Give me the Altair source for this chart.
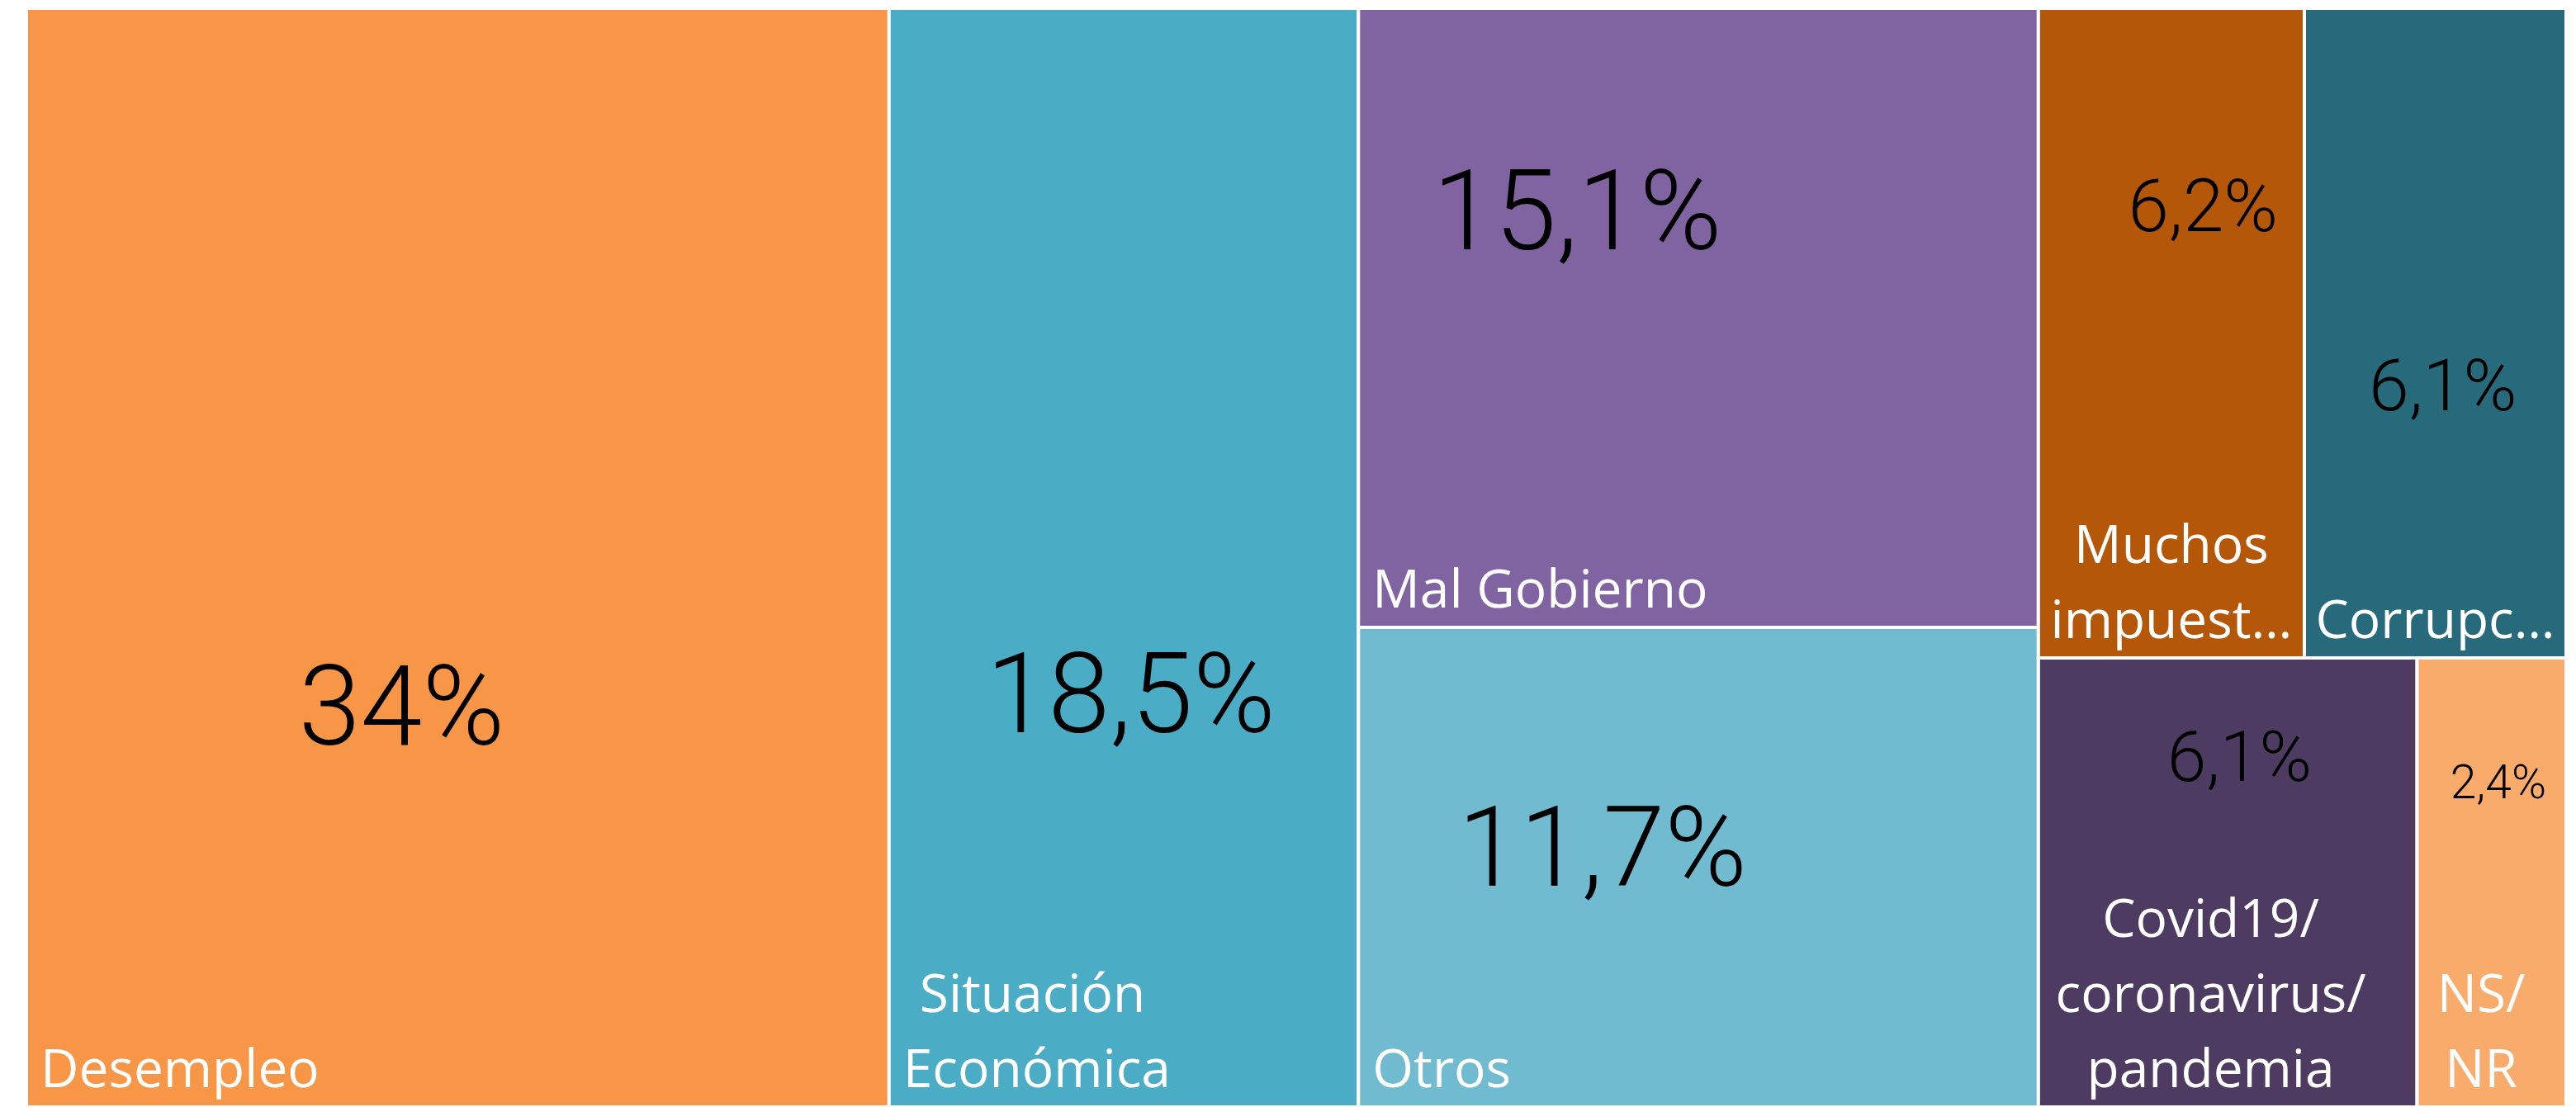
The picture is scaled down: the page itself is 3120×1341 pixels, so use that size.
import altair as alt
import pandas as pd

# ---------------- data ----------------
categories = ["Desempleo", "Situación Económica", "Mal Gobierno", "Otros",
              "Muchos impuestos", "Corrupción", "Covid19/coronavirus/pandemia", "NS/NR"]
values = [34.0, 18.5, 15.1, 11.7, 6.2, 6.1, 6.1, 2.4]
# treemap hierarchy: column -> row within column -> items left to right
column_of = [0, 1, 2, 2, 3, 3, 3, 3]
row_of = [0, 0, 0, 1, 0, 0, 1, 1]
# category names as printed (with the truncation shown in the chart)
name_lines = [["Desempleo"], ["Situación", "Económica"], ["Mal Gobierno"], ["Otros"],
              ["Muchos", "impuest…"], ["Corrupc…"], ["Covid19/", "coronavirus/", "pandemia"],
              ["NS/", "NR"]]

# ---------------- style ----------------
colors = ["#F79646", "#4BACC6", "#8064A2", "#70BBD0",
          "#B55709", "#276A7B", "#4D3B62", "#F9AB6B"]
# percentage label: anchor as fraction of its rectangle, font size
pct_fx = [0.435, 0.515, 0.322, 0.359, 0.619, 0.529, 0.531, 0.545]
pct_fy = [0.670, 0.659, 0.389, 0.539, 0.343, 0.619, 0.274, 0.312]
pct_fs = [135, 135, 135, 135, 89, 88, 86, 57]
# category name alignment
name_align = ["left", "left", "left", "left", "center", "center", "center", "center"]
name_fx = [0, 0, 0, 0, 0.5, 0.5, 0.455, 0.43]
# extra indentation (px) of individual name lines
name_indent = [[0], [20, 0], [0], [0], [0, 0], [0], [0, 0, 0], [0, 0]]

W_PX, H_PX = 3076, 1331
NAME_BOTTOM_PX = 24
NAME_LINE_PX = 91

# ---------------- treemap layout from values ----------------
total = sum(values)
rects = {}
x_cursor = 0.0
for c in sorted(set(column_of)):
    idx_c = [i for i in range(len(values)) if column_of[i] == c]
    col_total = sum(values[i] for i in idx_c)
    col_w = col_total / total
    y_cursor = 0.0
    for r in sorted(set(row_of[i] for i in idx_c)):
        idx_r = [i for i in idx_c if row_of[i] == r]
        row_total = sum(values[i] for i in idx_r)
        row_h = row_total / col_total
        xc = x_cursor
        for i in idx_r:
            w = col_w * values[i] / row_total
            rects[i] = (xc, xc + w, y_cursor, y_cursor + row_h)
            xc += w
        y_cursor += row_h
    x_cursor += col_w

rect_rows, pct_rows, name_rows = [], [], []
for i, cat in enumerate(categories):
    x0, x1, y0, y1 = rects[i]
    rect_rows.append({"category": cat, "x0": x0, "x1": x1, "y0": y0, "y1": y1})
    lab = ("%g" % values[i]).replace(".", ",") + "%"
    pct_rows.append({"category": cat, "label": lab,
                     "tx": x0 + pct_fx[i] * (x1 - x0),
                     "ty": y0 + pct_fy[i] * (y1 - y0),
                     "fs": pct_fs[i]})
    n = len(name_lines[i])
    for k, line in enumerate(name_lines[i]):
        from_bottom = n - 1 - k
        name_rows.append({"category": cat, "line": line, "align": name_align[i],
                          "tx": x0 + name_fx[i] * (x1 - x0) + name_indent[i][k] / W_PX,
                          "ty": y1 - (NAME_BOTTOM_PX + from_bottom * NAME_LINE_PX) / H_PX})

df_rect = pd.DataFrame(rect_rows)
df_pct = pd.DataFrame(pct_rows)
df_name = pd.DataFrame(name_rows)

xs = alt.Scale(domain=[0, 1], nice=False, zero=False)
ys = alt.Scale(domain=[0, 1], nice=False, zero=False, reverse=True)

rect_layer = alt.Chart(df_rect).mark_rect(stroke="white", strokeWidth=4).encode(
    x=alt.X("x0:Q", scale=xs, axis=None),
    x2="x1:Q",
    y=alt.Y("y0:Q", scale=ys, axis=None),
    y2="y1:Q",
    color=alt.Color("category:N", scale=alt.Scale(domain=categories, range=colors), legend=None),
)

pct_layer = alt.Chart(df_pct).mark_text(
    font="Roboto", fontWeight=300, color="black", align="center", baseline="alphabetic"
).encode(
    x=alt.X("tx:Q", scale=xs, axis=None),
    y=alt.Y("ty:Q", scale=ys, axis=None),
    text="label:N",
    size=alt.Size("fs:Q", scale=None, legend=None),
)

name_left = alt.Chart(df_name).transform_filter(alt.datum.align == "left").mark_text(
    font="Open Sans", fontSize=64, color="white", align="left", baseline="alphabetic", dx=17
).encode(
    x=alt.X("tx:Q", scale=xs, axis=None),
    y=alt.Y("ty:Q", scale=ys, axis=None),
    text="line:N",
)

name_center = alt.Chart(df_name).transform_filter(alt.datum.align == "center").mark_text(
    font="Open Sans", fontSize=64, color="white", align="center", baseline="alphabetic"
).encode(
    x=alt.X("tx:Q", scale=xs, axis=None),
    y=alt.Y("ty:Q", scale=ys, axis=None),
    text="line:N",
)

chart = alt.layer(rect_layer, pct_layer, name_left, name_center).properties(
    width=W_PX, height=H_PX,
    padding={"left": 24, "top": 2, "right": 0, "bottom": 0},
    autosize=alt.AutoSizeParams(type="none"),
    background="white",
).configure_view(stroke=None)

chart.save("out.html", embed_options={"renderer": "svg", "actions": False})
